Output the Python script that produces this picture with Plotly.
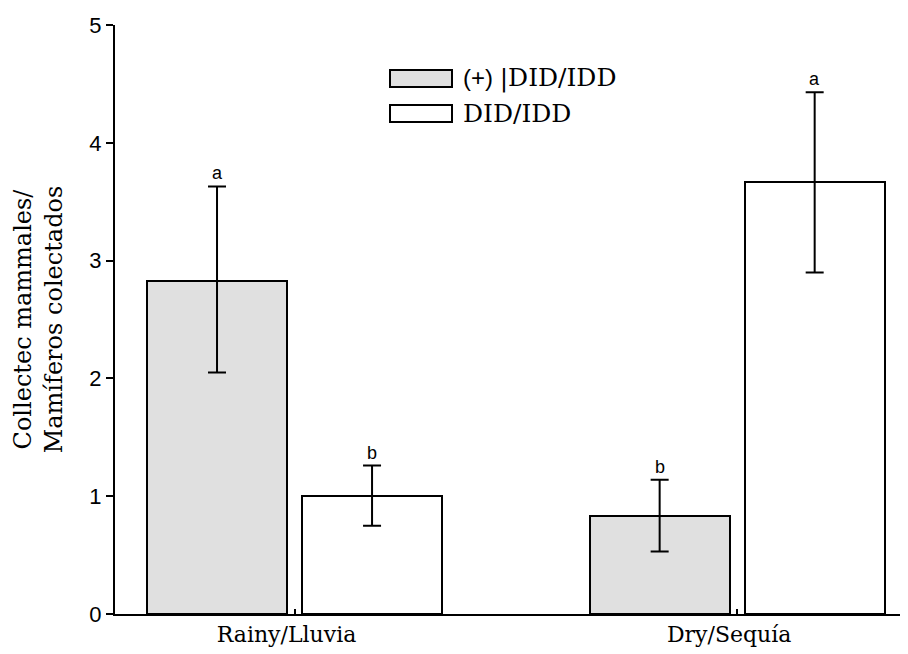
import plotly.graph_objects as go

categories = ["Rainy/Lluvia", "Dry/Sequía"]
plus_vals = [2.83, 0.83]
plus_err_up = [0.80, 0.31]
plus_err_down = [0.78, 0.30]
plus_letters = ["a", "b"]
did_vals = [1.00, 3.67]
did_err_up = [0.26, 0.76]
did_err_down = [0.25, 0.77]
did_letters = ["b", "a"]
legend_names = ["(+) |DID/IDD", "DID/IDD"]
y_ticks = [0, 1, 2, 3, 4, 5]

x_pos = list(range(len(categories)))
bar_w = 0.3164
off_plus = -0.3333
off_did = 0.01695
GRAY = "#e0e0e0"
SERIF = "DejaVu Serif"
SANS = "Liberation Sans"

# page body has an 8px margin: the figure is drawn 8px right and down
OFF = 8
L, T = 115 - OFF, 25 - OFF
PLOT_R = 908 - OFF
PLOT_B = 614 - OFF
W, H = 908, 654

fig = go.Figure()
err_style = dict(type="data", symmetric=False, color="black", thickness=2, width=9)
fig.add_trace(go.Bar(
    x=x_pos, y=plus_vals, width=bar_w, offset=off_plus, name=legend_names[0],
    marker=dict(color=GRAY, line=dict(color="black", width=2)),
    error_y=dict(array=plus_err_up, arrayminus=plus_err_down, **err_style),
    showlegend=False))
fig.add_trace(go.Bar(
    x=x_pos, y=did_vals, width=bar_w, offset=off_did, name=legend_names[1],
    marker=dict(color="white", line=dict(color="black", width=2)),
    error_y=dict(array=did_err_up, arrayminus=did_err_down, **err_style),
    showlegend=False))

# invisible trace to carry the right-hand axis ticks
fig.add_trace(go.Scatter(x=[x_pos[0]], y=[0], yaxis="y2", mode="markers",
                         marker=dict(opacity=0), showlegend=False, hoverinfo="skip"))

annotations = []
for i in x_pos:
    annotations.append(dict(x=i + off_plus + bar_w / 2, y=plus_vals[i] + plus_err_up[i],
                            text=plus_letters[i], showarrow=False, yanchor="bottom", yshift=1,
                            font=dict(family=SANS, size=18, color="black")))
    annotations.append(dict(x=i + off_did + bar_w / 2, y=did_vals[i] + did_err_up[i],
                            text=did_letters[i], showarrow=False, yanchor="bottom", yshift=1,
                            font=dict(family=SANS, size=18, color="black")))

# custom legend (screen pixel positions converted to paper fractions)
pw, ph = float(PLOT_R - L), float(PLOT_B - T)
def px_x(p):
    return (p - OFF - L) / pw
def px_y(p):
    return (PLOT_B - (p - OFF)) / ph

shapes = [
    dict(type="rect", xref="paper", yref="paper", x0=px_x(390), x1=px_x(452),
         y0=px_y(87), y1=px_y(70), fillcolor=GRAY, line=dict(color="black", width=2)),
    dict(type="rect", xref="paper", yref="paper", x0=px_x(390), x1=px_x(452),
         y0=px_y(122), y1=px_y(105), fillcolor="white", line=dict(color="black", width=2)),
]
plus_label = legend_names[0].split("|")
annotations.append(dict(xref="paper", yref="paper", x=px_x(461), y=px_y(78),
                        xanchor="left", yanchor="middle", showarrow=False,
                        text='<span style="font-family:Liberation Sans;font-size:24px">'
                             + plus_label[0] + '</span>|' + plus_label[1],
                        font=dict(family=SERIF, size=25, color="black")))
annotations.append(dict(xref="paper", yref="paper", x=px_x(461), y=px_y(114),
                        xanchor="left", yanchor="middle", showarrow=False,
                        text=legend_names[1],
                        font=dict(family=SERIF, size=25, color="black")))

fig.update_layout(
    width=W, height=H,
    margin=dict(l=L, r=W - PLOT_R, t=T, b=H - PLOT_B, autoexpand=False),
    plot_bgcolor="white", paper_bgcolor="white",
    xaxis=dict(range=[-0.4056, 1.386], tickvals=x_pos, ticktext=categories,
               ticks="inside", ticklen=5, tickwidth=2, tickcolor="black",
               showline=True, linecolor="black", linewidth=2, showgrid=False, zeroline=False,
               ticklabelshift=-8,
               tickfont=dict(family=SERIF, size=22, color="black")),
    yaxis=dict(range=[0, 5], tickvals=y_ticks, ticks="outside", ticklen=7, tickwidth=2,
               tickcolor="black", showline=True, linecolor="black", linewidth=2,
               showgrid=False, zeroline=False,
               tickfont=dict(family=SANS, size=22, color="black"),
               title=dict(text="Collectec mammales/<br>Mamíferos colectados",
                          font=dict(family=SERIF, size=24, color="black"), standoff=20)),
    yaxis2=dict(range=[0, 5], overlaying="y", side="right", tickvals=y_ticks,
                ticks="inside", ticklen=3, tickwidth=2, tickcolor="black",
                showticklabels=False, showline=False, showgrid=False, zeroline=False),
    shapes=shapes, annotations=annotations,
    bargap=0, bargroupgap=0,
)

fig.write_html("out.html")
